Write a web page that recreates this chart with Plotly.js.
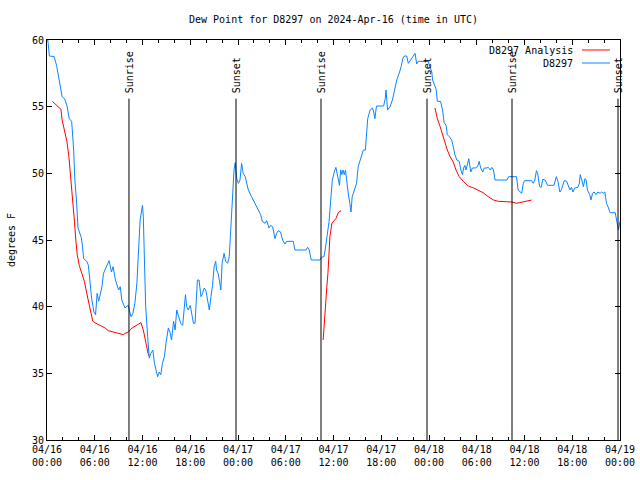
<!DOCTYPE html>
<html>
<head>
<meta charset="utf-8">
<script src="https://cdn.plot.ly/plotly-3.0.1.min.js"></script>
<style>html,body{margin:0;padding:0;background:#fff;}</style>
</head>
<body>
<div id="chart" style="width:640px;height:480px;"></div>
<script>
// Hours since 2024-04-16 00:00 UTC
const obsHours = [0.0,0.1,0.3,0.9,1.2,1.6,1.9,2.2,2.5,2.8,3.1,3.35,3.5,3.7,3.9,4.3,4.45,4.6,5.0,5.2,5.4,5.6,5.9,6.1,6.3,6.5,6.9,7.1,7.5,7.8,8.1,8.3,8.6,9.0,9.2,9.4,9.8,10.0,10.2,10.4,10.55,10.8,11.05,11.3,11.5,11.7,11.9,12.0,12.1,12.2,12.4,12.65,12.85,13.05,13.3,13.5,13.7,13.9,14.1,14.3,14.5,14.75,14.95,15.25,15.45,15.65,15.9,16.1,16.3,16.5,16.8,17.05,17.25,17.4,17.55,17.75,18.0,18.2,18.4,18.6,18.8,18.9,19.1,19.35,19.55,19.75,19.95,20.2,20.4,20.6,20.8,21.0,21.2,21.3,21.5,21.65,21.85,22.0,22.25,22.45,22.7,22.9,23.1,23.25,23.4,23.5,23.65,23.85,24.05,24.25,24.45,24.65,24.9,25.1,25.3,25.7,26.1,26.55,26.85,27.05,27.4,27.6,27.75,27.9,28.1,28.35,28.65,28.85,29.05,29.35,29.6,29.9,30.1,30.95,31.15,32.55,32.75,32.95,33.2,34.3,34.45,34.8,34.95,35.15,35.3,35.45,35.55,35.7,35.85,36.1,36.3,36.45,36.6,36.75,36.9,37.05,37.2,37.35,37.5,37.65,37.85,38.05,38.2,38.35,38.6,38.9,39.1,39.35,39.55,39.75,40.0,40.2,40.3,40.6,40.9,41.05,41.2,41.4,42.3,42.5,42.6,42.8,43.1,43.4,43.65,43.95,44.25,44.5,44.7,44.9,45.2,45.4,45.7,46.0,46.25,46.45,46.65,47.9,48.1,48.35,48.45,48.6,48.9,49.05,49.45,49.7,49.9,50.15,50.3,50.55,50.85,51.05,51.25,51.5,51.8,52.0,52.2,52.35,52.5,52.65,52.85,53.0,53.25,53.45,53.8,54.1,54.3,54.5,54.75,54.95,55.25,55.45,55.7,55.9,56.1,56.3,57.8,58.0,58.8,59.0,59.2,59.4,59.65,59.85,60.0,60.9,61.1,61.3,61.5,61.65,61.9,62.1,62.3,62.6,62.9,63.7,64.0,64.2,64.45,64.65,65.0,65.3,65.5,65.7,65.9,66.1,66.3,66.7,66.9,67.0,67.2,67.4,67.6,67.75,67.9,68.2,68.35,68.55,68.75,69.0,69.2,69.5,69.7,69.9,70.1,70.3,70.5,70.75,71.4,71.6,71.8,72.0];
const obsDew = [60.0,60.0,58.8,58.75,58.1,56.9,55.75,55.6,55.1,54.1,53.9,51.75,49.5,48.0,45.9,45.2,44.6,43.6,43.4,43.1,42.0,40.65,39.6,39.4,41.0,40.4,41.5,42.5,43.05,43.45,42.6,43.0,42.0,41.25,41.5,40.5,39.9,40.0,40.1,39.6,39.25,39.5,40.3,41.8,44.5,46.5,47.25,47.6,46.75,43.75,40.0,37.75,36.15,36.5,36.75,35.75,35.25,34.75,35.1,34.9,35.75,36.25,37.25,38.4,38.1,37.5,38.9,38.25,39.75,39.4,38.75,38.6,40.25,40.9,40.0,39.75,40.1,39.25,38.75,38.75,41.0,42.0,42.0,40.75,41.0,41.4,41.25,40.25,39.75,40.75,41.6,43.0,43.4,42.75,42.5,42.0,41.25,43.25,44.0,43.4,43.25,43.75,46.0,47.4,48.75,50.25,50.8,49.6,49.25,49.5,50.75,50.0,49.75,49.25,48.75,48.25,47.75,47.25,46.9,46.4,46.25,46.45,46.2,45.9,46.1,46.0,45.1,45.5,45.7,45.6,45.0,44.7,44.9,44.9,44.25,44.25,44.45,44.25,43.5,43.5,43.7,43.75,44.25,45.1,45.6,46.4,47.25,48.25,49.5,50.1,50.45,50.0,49.5,49.1,50.25,49.9,50.25,49.9,50.25,49.25,48.5,47.75,47.1,48.25,48.75,49.25,50.5,51.0,51.4,51.75,51.75,53.4,54.1,54.75,54.9,54.6,54.1,55.05,55.05,55.6,56.25,54.75,55.0,55.5,56.25,57.0,57.5,58.0,58.6,58.8,58.8,58.25,58.5,58.75,59.0,58.2,58.4,58.4,58.0,57.6,57.0,56.75,56.3,55.4,55.4,54.75,53.8,53.6,52.9,52.75,52.5,52.0,51.4,51.0,50.9,50.25,49.9,50.4,50.6,50.25,50.75,51.1,50.1,50.4,50.4,50.5,50.9,50.4,50.1,50.4,50.4,50.45,50.25,50.45,50.25,49.5,49.5,49.75,49.75,49.75,48.75,48.6,48.5,49.25,49.45,49.45,49.25,49.5,50.2,50.0,49.0,48.95,49.55,49.5,49.1,49.1,49.75,49.4,48.6,48.8,49.45,49.4,49.0,48.75,48.95,48.6,48.9,48.95,49.25,49.9,49.5,49.0,49.6,49.5,48.75,48.4,48.0,48.5,48.6,48.4,48.6,48.5,48.6,48.5,48.6,47.75,47.5,47.05,47.05,46.4,45.75,46.4];

// Analysis series (null = gap)
const anaHours = [0.67,1.0,1.4,1.75,1.9,2.2,2.5,2.75,3.0,3.2,3.45,3.6,3.8,4.05,4.35,4.7,5.0,5.3,5.5,5.75,6.0,6.65,7.3,7.7,8.35,9.0,9.6,9.8,10.2,10.7,11.3,11.8,12.1,12.3,12.5,12.7,12.8,
  20.0,
  34.7,34.8,35.0,35.15,35.3,35.45,35.55,35.8,36.0,36.3,36.6,36.95,
  42.0,
  48.75,49.05,49.4,49.7,50.0,50.3,50.65,51.0,51.4,51.8,52.3,52.95,53.6,54.2,54.8,55.45,56.1,56.7,57.55,58.4,59.0,59.4,60.05,60.9];
const anaDew = [55.4,55.2,55.0,54.8,54.0,53.25,52.4,51.25,49.65,48.15,46.4,45.15,43.9,43.1,42.5,41.9,41.0,40.1,39.5,38.9,38.8,38.6,38.4,38.2,38.1,38.05,37.9,38.0,38.1,38.4,38.6,38.8,38.25,37.6,37.0,36.5,36.3,
  null,
  37.5,38.5,40.25,41.4,42.5,44.5,45.25,46.25,46.4,46.6,47.05,47.2,
  null,
  54.9,54.1,53.5,52.9,52.25,51.75,51.25,50.9,50.25,49.75,49.4,49.05,48.9,48.75,48.55,48.25,48.0,47.9,47.9,47.85,47.75,47.8,47.85,48.0];

const eventHours = [10.3, 23.75, 34.43, 47.75, 58.43, 71.75];
const eventLabels = ["Sunrise", "Sunset", "Sunrise", "Sunset", "Sunrise", "Sunset"];

const tickHours = [0,6,12,18,24,30,36,42,48,54,60,66,72];
const tickLabels = ["04/16<br>00:00","04/16<br>06:00","04/16<br>12:00","04/16<br>18:00","04/17<br>00:00","04/17<br>06:00","04/17<br>12:00","04/17<br>18:00","04/18<br>00:00","04/18<br>06:00","04/18<br>12:00","04/18<br>18:00","04/19<br>00:00"];

const seriesNames = ["D8297 Analysis", "D8297"];
const seriesColors = ["#ff0000", "#0a84ff"];

const FONT = {family: "DejaVu Sans Mono, monospace", size: 10, color: "#000"};

const traces = [
  {x: anaHours, y: anaDew, type: "scatter", mode: "lines", name: seriesNames[0],
   line: {color: seriesColors[0], width: 1}, connectgaps: false, showlegend: false},
  {x: obsHours, y: obsDew, type: "scatter", mode: "lines", name: seriesNames[1],
   line: {color: seriesColors[1], width: 1}, showlegend: false}
];

const shapes = eventHours.map(h => ({
  type: "line", xref: "x", yref: "y", x0: h, x1: h, y0: 30, y1: 55.6,
  line: {color: "#000", width: 1}
}));
const annotations = eventHours.map((h, i) => ({
  xref: "x", yref: "y", x: h, y: 55.85, text: eventLabels[i], textangle: -90,
  showarrow: false, xanchor: "center", yanchor: "bottom", font: FONT
}));

// gnuplot-style key (text right-aligned, sample on the right)
const keyY = [0.975, 0.9425];
seriesNames.forEach((n, i) => {
  annotations.push({xref: "paper", yref: "paper", x: 0.9215, y: keyY[i], text: n,
    showarrow: false, xanchor: "right", yanchor: "middle", font: FONT});
  shapes.push({type: "line", xref: "paper", yref: "paper", x0: 0.9337, x1: 0.9825,
    y0: keyY[i], y1: keyY[i], line: {color: seriesColors[i], width: 1}});
});

const layout = {
  width: 640, height: 480,
  margin: {l: 47, r: 20, t: 40, b: 40, pad: 0},
  paper_bgcolor: "#fff", plot_bgcolor: "#fff",
  font: FONT,
  showlegend: false,
  title: {text: "Dew Point for D8297 on 2024-Apr-16 (time in UTC)", font: FONT,
    x: 0.5, xref: "paper", y: 0.96, yref: "container", yanchor: "middle"},
  xaxis: {range: [0, 72], tickmode: "array", tickvals: tickHours, ticktext: tickLabels,
    showgrid: false, zeroline: false, showline: true, linecolor: "#000", linewidth: 1,
    mirror: "allticks", ticks: "inside", ticklen: 5, tickcolor: "#000",
    minor: {dtick: 2, tick0: 0, ticks: "inside", ticklen: 3, tickcolor: "#000", showgrid: false},
    tickfont: FONT, automargin: false},
  yaxis: {range: [30, 60], dtick: 5, tick0: 30,
    showgrid: false, zeroline: false, showline: true, linecolor: "#000", linewidth: 1,
    mirror: "allticks", ticks: "inside", ticklen: 5, tickcolor: "#000",
    tickfont: FONT, automargin: false,
    title: {text: "degrees F", font: FONT, standoff: 14}},
  shapes: shapes,
  annotations: annotations
};

Plotly.newPlot("chart", traces, layout, {displayModeBar: false, staticPlot: true});
</script>
</body>
</html>
